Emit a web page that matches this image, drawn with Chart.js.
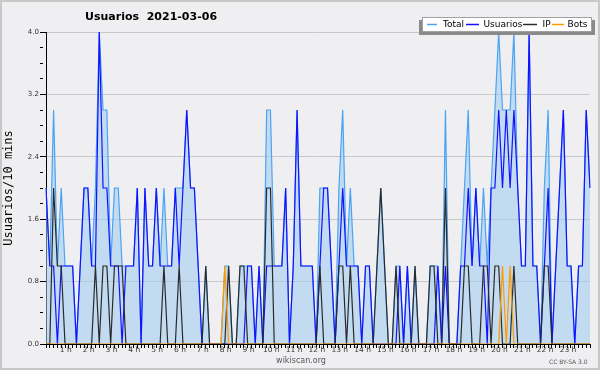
<!DOCTYPE html>
<html>
<head>
<meta charset="utf-8">
<script src="https://cdn.jsdelivr.net/npm/chart.js@4.4.0/dist/chart.umd.min.js"></script>
<style>
  html, body { margin: 0; padding: 0; background: #fff; }
  #wrap { width: 600px; height: 370px; }
</style>
</head>
<body>
<div id="wrap"><canvas id="grafico" width="600" height="370"></canvas></div>
<script>
// Usuarios por franja de 10 minutos, 2021-03-06 (144 franjas)

const titulo = 'Usuarios  2021-03-06';
const tituloEjeY = 'Usuarios/10 mins';
const nombresSeries = ['Total', 'Usuarios', 'IP', 'Bots'];
const etiquetasHoras = ['1 h', '2 h', '3 h', '4 h', '5 h', '6 h', '7 h', '8 h', '9 h', '10 h', '11 h', '12 h',
    '13 h', '14 h', '15 h', '16 h', '17 h', '18 h', '19 h', '20 h', '21 h', '22 h', '23 h'];
const marcasEjeY = [0, 0.8, 1.6, 2.4, 3.2, 4.0];

const total = [
    2, 1, 3, 1, 2, 1, 1, 1, 0, 1, 2, 2,
    1, 2, 4, 3, 3, 1, 2, 2, 1, 1, 1, 1,
    2, 0, 2, 1, 1, 2, 1, 2, 1, 1, 2, 2,
    2, 3, 2, 2, 1, 0, 1, 0, 0, 0, 0, 1,
    1, 0, 0, 1, 1, 1, 1, 0, 1, 0, 3, 3,
    1, 1, 1, 2, 0, 1, 3, 1, 1, 1, 1, 0,
    2, 2, 2, 1, 0, 2, 3, 1, 2, 1, 1, 0,
    1, 1, 0, 1, 2, 1, 0, 0, 1, 1, 0, 1,
    0, 1, 0, 0, 0, 1, 1, 1, 0, 3, 0, 0,
    0, 1, 2, 3, 1, 2, 1, 2, 1, 2, 3, 4,
    3, 3, 3, 4, 2, 1, 1, 4, 1, 1, 0, 2,
    3, 0, 1, 2, 3, 1, 1, 0, 1, 1, 3, 2
];
const usuarios = [
    2, 1, 1, 0, 1, 1, 1, 1, 0, 1, 2, 2,
    1, 1, 4, 2, 2, 1, 1, 1, 0, 1, 1, 1,
    2, 0, 2, 1, 1, 2, 1, 1, 1, 1, 2, 1,
    2, 3, 2, 2, 1, 0, 0, 0, 0, 0, 0, 0,
    0, 0, 0, 0, 0, 1, 1, 0, 1, 0, 1, 1,
    1, 1, 1, 2, 0, 1, 3, 1, 1, 1, 1, 0,
    1, 2, 2, 1, 0, 1, 2, 1, 1, 1, 1, 0,
    1, 1, 0, 0, 0, 0, 0, 0, 0, 1, 0, 1,
    0, 0, 0, 0, 0, 0, 0, 1, 0, 1, 0, 0,
    0, 1, 1, 2, 1, 2, 1, 1, 0, 2, 2, 3,
    2, 3, 2, 3, 2, 1, 1, 4, 1, 1, 0, 1,
    2, 0, 1, 2, 3, 1, 1, 0, 1, 1, 3, 2
];
const ip = [
    0, 0, 2, 1, 1, 0, 0, 0, 0, 0, 0, 0,
    0, 1, 0, 1, 1, 0, 1, 1, 1, 0, 0, 0,
    0, 0, 0, 0, 0, 0, 0, 1, 0, 0, 0, 1,
    0, 0, 0, 0, 0, 0, 1, 0, 0, 0, 0, 0,
    1, 0, 0, 1, 1, 0, 0, 0, 0, 0, 2, 2,
    0, 0, 0, 0, 0, 0, 0, 0, 0, 0, 0, 0,
    1, 0, 0, 0, 0, 1, 1, 0, 1, 0, 0, 0,
    0, 0, 0, 1, 2, 1, 0, 0, 1, 0, 0, 0,
    0, 1, 0, 0, 0, 1, 1, 0, 0, 2, 0, 0,
    0, 0, 1, 1, 0, 0, 0, 1, 1, 0, 1, 1,
    0, 0, 0, 1, 0, 0, 0, 0, 0, 0, 0, 1,
    1, 0, 0, 0, 0, 0, 0, 0, 0, 0, 0, 0
];
const bots = [
    0, 0, 0, 0, 0, 0, 0, 0, 0, 0, 0, 0,
    0, 0, 0, 0, 0, 0, 0, 0, 0, 0, 0, 0,
    0, 0, 0, 0, 0, 0, 0, 0, 0, 0, 0, 0,
    0, 0, 0, 0, 0, 0, 0, 0, 0, 0, 0, 1,
    0, 0, 0, 0, 0, 0, 0, 0, 0, 0, 0, 0,
    0, 0, 0, 0, 0, 0, 0, 0, 0, 0, 0, 0,
    0, 0, 0, 0, 0, 0, 0, 0, 0, 0, 0, 0,
    0, 0, 0, 0, 0, 0, 0, 0, 0, 0, 0, 0,
    0, 0, 0, 0, 0, 0, 0, 0, 0, 0, 0, 0,
    0, 0, 0, 0, 0, 0, 0, 0, 0, 0, 0, 0,
    1, 0, 1, 0, 0, 0, 0, 0, 0, 0, 0, 0,
    0, 0, 0, 0, 0, 0, 0, 0, 0, 0, 0, 0
];

const colores = {
    fondo: '#efeff1',
    marco: '#c8c8c8',
    rejilla: '#c9c9c9',
    total: '#4aa3f3',
    totalRelleno: 'rgba(157, 203, 239, 0.55)',
    usuarios: '#1212ff',
    ip: '#2a2a2a',
    bots: '#ff9a00',
    texto: '#333333'
};

Chart.defaults.font.family = '"DejaVu Sans", Verdana, sans-serif';

const franjas = total.map((_, i) => i);
const esMarca = v => marcasEjeY.some(m => Math.abs(m - v) < 1e-6);

// fondo, marco, titulo, leyenda y pies
const decorado = {
    id: 'decorado',
    beforeDraw(chart) {
        const c = chart.ctx;
        c.save();
        c.fillStyle = colores.fondo;
        c.fillRect(0, 0, chart.width, chart.height);
        c.strokeStyle = colores.marco;
        c.lineWidth = 2;
        c.strokeRect(1, 1, chart.width - 2, chart.height - 2);
        c.restore();
    },
    afterDraw(chart) {
        const c = chart.ctx;
        c.save();
        c.fillStyle = '#000';
        c.textBaseline = 'middle';
        c.font = 'bold 11px "DejaVu Sans"';
        c.fillText(titulo, 85, 17);

        // caja de la leyenda con sombra
        c.fillStyle = '#8a8a8a';
        c.fillRect(419, 20, 176, 15);
        c.fillStyle = '#ffffff';
        c.fillRect(422, 17, 170, 15);
        c.strokeStyle = '#a0a0a0';
        c.lineWidth = 1;
        c.strokeRect(422.5, 17.5, 169, 14);

        const items = [
            { x1: 427, x2: 437, tx: 443, color: colores.total },
            { x1: 466, x2: 479, tx: 483.5, color: colores.usuarios },
            { x1: 523, x2: 537, tx: 542.5, color: colores.ip },
            { x1: 552, x2: 564, tx: 567.5, color: colores.bots }
        ];
        c.font = '9px "DejaVu Sans"';
        items.forEach((it, i) => {
            c.strokeStyle = it.color;
            c.lineWidth = 1.5;
            c.beginPath();
            c.moveTo(it.x1, 24.5);
            c.lineTo(it.x2, 24.5);
            c.stroke();
            c.fillStyle = '#000';
            c.fillText(nombresSeries[i], it.tx, 24.5);
        });

        c.fillStyle = '#555';
        c.font = '8px "DejaVu Sans"';
        c.textAlign = 'center';
        c.fillText('wikiscan.org', 301, 361);
        c.textAlign = 'left';
        c.font = '6px "DejaVu Sans"';
        c.fillText('CC BY-SA 3.0', 549, 362);
        c.restore();
    }
};

function linea(label, data, color, orden, extra) {
    return Object.assign({
        label, data,
        borderColor: color,
        borderWidth: 1.2,
        pointRadius: 0,
        tension: 0,
        fill: false,
        order: orden
    }, extra || {});
}

new Chart(document.getElementById('grafico'), {
    type: 'line',
    data: {
        labels: franjas,
        datasets: [
            linea(nombresSeries[0], total, colores.total, 4, { fill: 'origin', backgroundColor: colores.totalRelleno }),
            linea(nombresSeries[1], usuarios, colores.usuarios, 3),
            linea(nombresSeries[2], ip, colores.ip, 2),
            linea(nombresSeries[3], bots, colores.bots, 1)
        ]
    },
    options: {
        responsive: false,
        animation: false,
        devicePixelRatio: 1,
        layout: { padding: { top: 32, right: 10, left: 0, bottom: 0 } },
        plugins: { legend: { display: false }, tooltip: { enabled: false }, title: { display: false } },
        scales: {
            x: {
                type: 'category',
                offset: false,
                afterFit: s => { s.height = 26; },
                border: { display: true, color: '#000', width: 1 },
                grid: { drawOnChartArea: false, drawTicks: true, tickLength: 4, tickColor: '#000' },
                ticks: {
                    autoSkip: false, maxRotation: 0, minRotation: 0, padding: -2, labelOffset: -3,
                    color: colores.texto, font: { size: 7.5 },
                    callback: (v, i) => (i > 0 && i % 6 === 0) ? etiquetasHoras[i / 6 - 1] : ''
                }
            },
            y: {
                min: 0, max: 4,
                afterFit: s => { s.width = 46; },
                border: { display: true, color: '#000', width: 1 },
                grid: {
                    tickLength: 6,
                    tickColor: '#000',
                    color: ctx => (ctx.tick && ctx.tick.value > 0 && esMarca(ctx.tick.value)) ? colores.rejilla : 'rgba(0,0,0,0)',
                    tickBorderDash: ctx => (ctx.tick && esMarca(ctx.tick.value)) ? [] : [3, 50]
                },
                ticks: {
                    stepSize: 0.2, autoSkip: false, padding: 1,
                    color: colores.texto, font: { size: 7 },
                    callback: v => esMarca(v) ? v.toFixed(1) : ''
                },
                title: {
                    display: true, text: tituloEjeY, color: '#000',
                    font: { size: 12, family: '"DejaVu Sans Mono", monospace' },
                    padding: { top: 2, bottom: 0 }
                }
            }
        }
    },
    plugins: [decorado]
});
</script>
</body>
</html>
